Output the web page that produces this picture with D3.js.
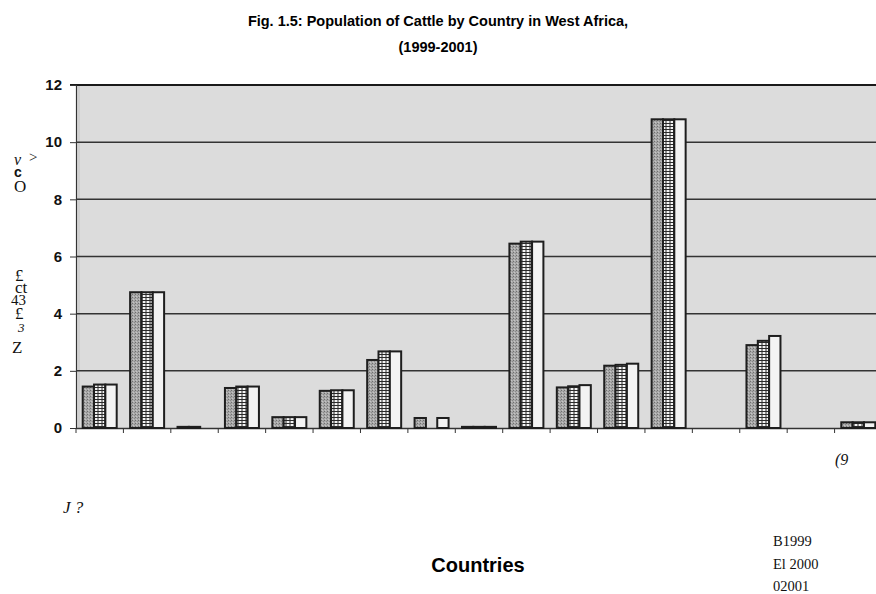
<!DOCTYPE html>
<html>
<head>
<meta charset="utf-8">
<script src="https://cdn.jsdelivr.net/npm/d3@7"></script>
<style>
  body { margin: 0; background: #fff; }
  svg { display: block; }
</style>
</head>
<body>
<svg id="chart" width="876" height="594"></svg>
<script>
// country names are not printed in the scan, so the categories are just slots
const countries = ["c01","c02","c03","c04","c05","c06","c07","c08","c09","c10","c11","c12","c13","c14","c15","c16","c17"];
const years = ["1999", "2000", "2001"];
// millions of head (null = no bar drawn)
const v1999 = [1.45, 4.75, 0.04, 1.40, 0.38, 1.30, 2.38, 0.35, 0.04, 6.45, 1.42, 2.18, 10.8, null, 2.90, null, 0.20];
const v2000 = [1.52, 4.75, 0.04, 1.45, 0.38, 1.32, 2.68, null, 0.04, 6.52, 1.46, 2.21, 10.8, null, 3.05, null, 0.20];
const v2001 = [1.52, 4.75, null, 1.45, 0.38, 1.32, 2.68, 0.35, 0.04, 6.52, 1.50, 2.25, 10.8, null, 3.22, null, 0.20];
const yTicks = [0, 2, 4, 6, 8, 10, 12];
const legendLines = ["B1999", "El 2000", "02001"];

const svg = d3.select("#chart");

let series = [v1999, v2000, v2001];
let rows = [];
countries.forEach(function(c, i) {
  years.forEach(function(yr, j) {
    if (series[j][i] != null) rows.push({country: c, year: yr, value: series[j][i]});
  });
});

// patterns to mimic the scanned fills
let defs = svg.append("defs");
let p1 = defs.append("pattern").attr("id", "p1999")
  .attr("width", 3).attr("height", 3).attr("patternUnits", "userSpaceOnUse");
p1.append("rect").attr("width", 3).attr("height", 3).attr("fill", "#a9a9a9");
p1.append("rect").attr("x", 0).attr("y", 0).attr("width", 1).attr("height", 1).attr("fill", "#6f6f6f");
p1.append("rect").attr("x", 2).attr("y", 1).attr("width", 1).attr("height", 1).attr("fill", "#8a8a8a");
p1.append("rect").attr("x", 1).attr("y", 2).attr("width", 1).attr("height", 1).attr("fill", "#c4c4c4");

let p2 = defs.append("pattern").attr("id", "p2000")
  .attr("width", 4).attr("height", 3).attr("patternUnits", "userSpaceOnUse");
p2.append("rect").attr("width", 4).attr("height", 3).attr("fill", "#f4f4f4");
p2.append("rect").attr("x", 1.5).attr("y", 0).attr("width", 1).attr("height", 3).attr("fill", "#2a2a2a");
p2.append("rect").attr("x", 0).attr("y", 0).attr("width", 4).attr("height", 1).attr("fill", "#2a2a2a");

const fills = {"1999": "url(#p1999)", "2000": "url(#p2000)", "2001": "#f3f3f3"};

// scales: plot runs off the right edge like the scan
const x = d3.scaleBand().domain(countries).range([76, 882]).padding(0);
const xs = d3.scaleBand().domain(years).range([6.7, 40.7]).padding(0);
const y = d3.scaleLinear().domain([0, 12]).range([428, 85]);

// plot background
svg.append("rect")
  .attr("x", 77).attr("y", y(12))
  .attr("width", 876 - 77).attr("height", y(0) - y(12))
  .attr("fill", "#dcdcdc");
svg.append("line")
  .attr("x1", 79).attr("x2", 79).attr("y1", y(12)).attr("y2", y(0))
  .attr("stroke", "#c2c2c2").attr("stroke-width", 1);

// gridlines
svg.append("g").selectAll("line")
  .data(yTicks.filter(d => d > 0 && d < 12))
  .join("line")
  .attr("x1", 76).attr("x2", 876)
  .attr("y1", d => y(d)).attr("y2", d => y(d))
  .attr("stroke", "#333").attr("stroke-width", 1.5);
svg.append("line")
  .attr("x1", 70).attr("x2", 876).attr("y1", y(12)).attr("y2", y(12))
  .attr("stroke", "#1a1a1a").attr("stroke-width", 2.2);

// y axis
const yAxis = d3.axisLeft(y).tickValues(yTicks).tickSize(6).tickPadding(8);
let ga = svg.append("g").attr("transform", "translate(76,0)").call(yAxis);
ga.select(".domain").attr("stroke", "#333").attr("stroke-width", 1.2);
ga.selectAll(".tick line").attr("stroke", "#333");
ga.selectAll(".tick text")
  .attr("font-family", "Liberation Sans, Arial, sans-serif")
  .attr("font-weight", "bold").attr("font-size", 15).attr("fill", "#111");

// x axis: ticks on category boundaries, no labels
const xAxis = d3.axisBottom(x).tickSize(0).tickFormat("");
let gx = svg.append("g").attr("transform", "translate(0," + y(0) + ")").call(xAxis);
gx.select(".domain").attr("stroke", "#333").attr("stroke-width", 1.4);
gx.selectAll(".tick").remove();
gx.selectAll("line.bound")
  .data(countries)
  .join("line").attr("class", "bound")
  .attr("x1", d => x(d)).attr("x2", d => x(d))
  .attr("y1", 0).attr("y2", 5)
  .attr("stroke", "#333").attr("stroke-width", 1);

// bars
svg.append("g").selectAll("rect")
  .data(rows)
  .join("rect")
  .attr("x", d => x(d.country) + xs(d.year))
  .attr("y", d => y(d.value))
  .attr("width", xs.bandwidth())
  .attr("height", d => Math.max(1, y(0) - y(d.value)))
  .attr("fill", d => fills[d.year])
  .attr("stroke", "#1e1e1e").attr("stroke-width", 2);

// title
const sans = "Liberation Sans, Arial, sans-serif";
const serif = "Liberation Serif, Times New Roman, serif";
svg.append("text").attr("x", 438).attr("y", 26).attr("text-anchor", "middle")
  .attr("font-family", sans).attr("font-weight", "bold").attr("font-size", 14.5)
  .text("Fig. 1.5: Population of Cattle by Country in West Africa,");
svg.append("text").attr("x", 438).attr("y", 52).attr("text-anchor", "middle")
  .attr("font-family", sans).attr("font-weight", "bold").attr("font-size", 14.5)
  .text("(1999-2001)");

// scanned (OCR) fragments of the y axis title
let frag = [
  {t: "v", x: 14, y: 165, f: serif, s: 16, it: true, w: "normal"},
  {t: ">", x: 29, y: 162, f: serif, s: 15, it: false, w: "normal"},
  {t: "c", x: 14, y: 177, f: sans, s: 14, it: false, w: "bold"},
  {t: "O", x: 14, y: 192, f: serif, s: 17, it: false, w: "normal"},
  {t: "£", x: 15, y: 281, f: serif, s: 17, it: false, w: "normal"},
  {t: "ct", x: 15, y: 293, f: serif, s: 17, it: false, w: "normal"},
  {t: "43", x: 11, y: 305, f: serif, s: 15, it: false, w: "normal"},
  {t: "£", x: 15, y: 319, f: serif, s: 17, it: false, w: "normal"},
  {t: "3", x: 18, y: 332, f: serif, s: 13, it: true, w: "normal"},
  {t: "Z", x: 12, y: 353, f: serif, s: 17, it: false, w: "normal"},
  {t: "(9", x: 835, y: 465, f: serif, s: 16, it: true, w: "normal"},
  {t: "J ?", x: 63, y: 513, f: serif, s: 17, it: true, w: "normal"}
];
svg.append("g").selectAll("text")
  .data(frag)
  .join("text")
  .attr("x", d => d.x).attr("y", d => d.y)
  .attr("font-family", d => d.f).attr("font-size", d => d.s)
  .attr("font-style", d => d.it ? "italic" : "normal")
  .attr("font-weight", d => d.w).attr("fill", "#111")
  .text(d => d.t);

// x axis title
svg.append("text").attr("x", 478).attr("y", 572).attr("text-anchor", "middle")
  .attr("font-family", sans).attr("font-weight", "bold").attr("font-size", 20)
  .text("Countries");

// legend as it came out of the scan
svg.append("g").selectAll("text")
  .data(legendLines)
  .join("text")
  .attr("x", 773).attr("y", (d, i) => 546 + i * 22.5)
  .attr("font-family", serif).attr("font-size", 14.5).attr("fill", "#111")
  .text(d => d);
</script>
</body>
</html>
